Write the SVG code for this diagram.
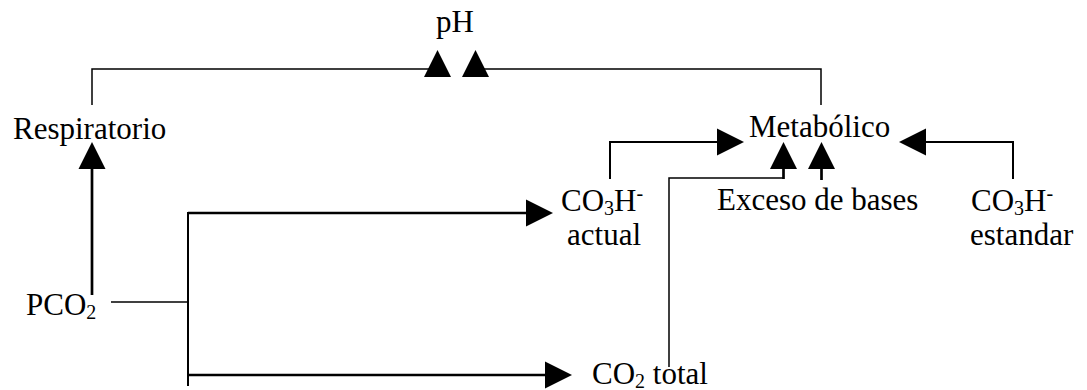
<svg xmlns="http://www.w3.org/2000/svg" xmlns:xlink="http://www.w3.org/1999/xlink" width="1087" height="390" viewBox="0 0 1087 390">
  <defs>
    <style>
      .lbl { font-family: "Liberation Serif", "Times New Roman", serif; font-size: 31px; fill: #000; }
      .sm { font-size: 20px; }
      .ln { fill: none; stroke: #000; stroke-linecap: butt; stroke-linejoin: miter; }
      .w1 { stroke-width: 1.5; }
      .w2 { stroke-width: 2; }
      .w3 { stroke-width: 2.7; }
      .head { fill: #000; stroke: none; }
    </style>
    <!-- arrowhead with its tip at the origin, pointing up -->
    <path id="tri" d="M0,0 L13.5,27 L-13.5,27 Z"/>
  </defs>

  <rect width="1087" height="390" fill="#fff"/>

  <g id="connectors">
    <!-- Respiratorio -> pH -->
    <path class="ln w1" d="M92,105 V69 H437"/>
    <use class="head" xlink:href="#tri" href="#tri" transform="translate(437.5,50)"/>
    <!-- Metabolico -> pH -->
    <path class="ln w1" d="M821,105 V69 H475"/>
    <use class="head" xlink:href="#tri" href="#tri" transform="translate(475.5,50)"/>

    <!-- PCO2 -> Respiratorio -->
    <path class="ln w3" d="M92,295 V168"/>
    <use class="head" xlink:href="#tri" href="#tri" transform="translate(92,142)"/>

    <!-- PCO2 branch -->
    <path class="ln w1" d="M111,302 H188"/>
    <path class="ln w2" d="M188,212 V386"/>
    <path class="ln w3" d="M188,213 H527"/>
    <use class="head" xlink:href="#tri" href="#tri" transform="translate(553,213) rotate(90)"/>
    <path class="ln w3" d="M188,375 H546"/>
    <use class="head" xlink:href="#tri" href="#tri" transform="translate(572,375) rotate(90)"/>

    <!-- CO3H- actual -> Metabolico -->
    <path class="ln w2" d="M610,179 V142 H718"/>
    <use class="head" xlink:href="#tri" href="#tri" transform="translate(744,142) rotate(90)"/>

    <!-- CO3H- estandar -> Metabolico -->
    <path class="ln w2" d="M1013,179 V142 H925"/>
    <use class="head" xlink:href="#tri" href="#tri" transform="translate(899,142) rotate(-90)"/>

    <!-- CO2 total -> Metabolico -->
    <path class="ln w1" d="M669,367 V178 H783.5"/>
    <path class="ln w3" d="M783.5,179 V168"/>
    <use class="head" xlink:href="#tri" href="#tri" transform="translate(783.5,142)"/>

    <!-- Exceso de bases -> Metabolico -->
    <path class="ln w3" d="M821.5,180 V168"/>
    <use class="head" xlink:href="#tri" href="#tri" transform="translate(821.5,142)"/>
  </g>

  <g id="ph">
    <text class="lbl" x="436" y="32">pH</text>
  </g>
  <g id="respiratorio">
    <text class="lbl" x="13" y="139">Respiratorio</text>
  </g>
  <g id="metabolico">
    <text class="lbl" x="749" y="137">Metabólico</text>
  </g>
  <g id="co3h-actual">
    <text class="lbl" x="561" y="211">CO<tspan class="sm" dy="4">3</tspan><tspan dy="-4">H</tspan><tspan class="sm" dy="-11">-</tspan></text>
    <text class="lbl" x="567" y="245">actual</text>
  </g>
  <g id="exceso-bases">
    <text class="lbl" x="717" y="210">Exceso de bases</text>
  </g>
  <g id="co3h-estandar">
    <text class="lbl" x="971" y="211">CO<tspan class="sm" dy="4">3</tspan><tspan dy="-4">H</tspan><tspan class="sm" dy="-11">-</tspan></text>
    <text class="lbl" x="970" y="245">estandar</text>
  </g>
  <g id="pco2">
    <text class="lbl" x="26" y="315">PCO<tspan class="sm" dy="4">2</tspan></text>
  </g>
  <g id="co2-total">
    <text class="lbl" x="592" y="384">CO<tspan class="sm" dy="4">2</tspan><tspan dy="-4"> total</tspan></text>
  </g>
</svg>
